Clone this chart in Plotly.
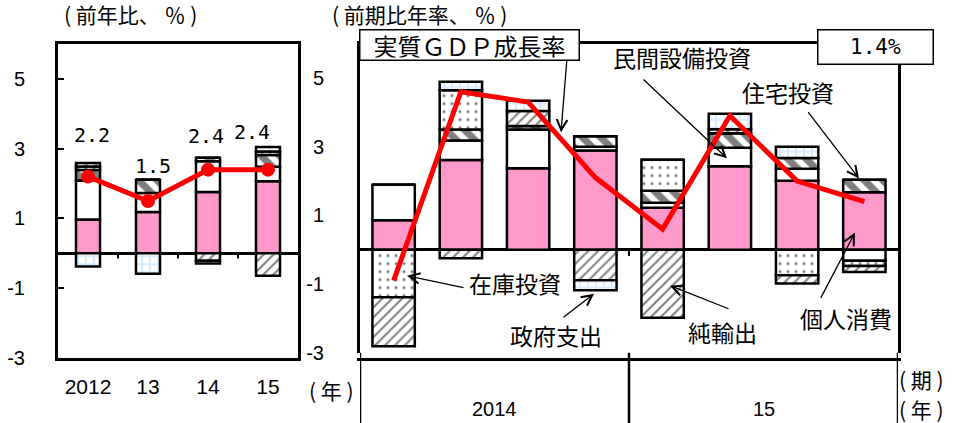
import plotly.graph_objects as go

W, H = 953, 423          # reference picture size (layout coordinates below are in these pixels)
FIG_H = 435              # rendered height (screenshot is squeezed to 423)
SY = FIG_H / H

# ---------------- data ----------------
years_a = ["2012", "13", "14", "15"]
gdp_a = [2.2, 1.5, 2.4, 2.4]
pc_a = [0.97, 1.18, 1.76, 2.07]
nonres_a = [1.12, 0.55, 0.88, 0.41]
res_a = [0.30, 0.38, 0.10, 0.34]
inv_a = [0.10, 0.00, 0.00, 0.10]
nx_a = [0.10, 0.00, -0.22, -0.65]
gov_a = [-0.38, -0.59, -0.08, 0.13]

quarters = ["2014Q1", "2014Q2", "2014Q3", "2014Q4", "2015Q1", "2015Q2", "2015Q3", "2015Q4"]
year_groups = ["2014", "15"]
gdp_q = [-0.9, 4.6, 4.3, 2.1, 0.6, 3.9, 2.0, 1.4]
pc_q = [0.86, 2.61, 2.37, 2.89, 1.22, 2.43, 2.01, 1.67]
nonres_q = [1.03, 0.57, 1.13, 0.11, 0.15, 0.54, 0.35, -0.32]
res_q = [0.00, 0.32, 0.10, 0.30, 0.35, 0.42, 0.31, 0.37]
inv_q = [-1.38, 1.14, 0.00, 0.00, 0.90, 0.00, -0.74, -0.15]
nx_q = [-1.43, -0.25, 0.44, -0.89, -1.98, 0.12, -0.24, -0.18]
gov_q = [0.00, 0.25, 0.30, -0.29, 0.00, 0.45, 0.33, 0.00]

y_ticks = [5, 3, 1, -1, -3]

names = ["個人消費", "民間設備投資", "住宅投資", "在庫投資", "純輸出", "政府支出"]
annual = [pc_a, nonres_a, res_a, inv_a, nx_a, gov_a]
quarterly = [pc_q, nonres_q, res_q, inv_q, nx_q, gov_q]

# ---------------- styles ----------------
PINK = "#FF99CC"
styles = [
    dict(color=PINK),
    dict(color="white"),
    dict(color="white", pattern=dict(shape="\\", fgcolor="black", bgcolor="white", size=13, solidity=0.55)),
    dict(color="white", pattern=dict(shape=".", fgcolor="black", bgcolor="white", size=8, solidity=0.12)),
    dict(color="white", pattern=dict(shape="/", fgcolor="black", bgcolor="white", size=7, solidity=0.28)),
    dict(color="white", pattern=dict(shape="+", fgcolor="#99CCFF", bgcolor="white", size=8, solidity=0.35)),
]
OUT = dict(color="black", width=2.5)
JP = "Noto Sans CJK JP"
NUM = "Liberation Sans, Arial"
MONO = "DejaVu Sans Mono"

def px(x):
    return x / W

def py(y):
    return 1 - y / H

fig = go.Figure()

for name, vals, st in zip(names, annual, styles):
    fig.add_trace(go.Bar(x=years_a, y=vals, name=name, width=[0.4] * len(years_a),
                         marker=dict(line=OUT, **st), xaxis="x", yaxis="y", showlegend=False))
for name, vals, st in zip(names, quarterly, styles):
    fig.add_trace(go.Bar(x=quarters, y=vals, name=name, width=[0.63] * len(quarters),
                         marker=dict(line=OUT, **st), xaxis="x2", yaxis="y2", showlegend=False))

fig.add_trace(go.Scatter(x=years_a, y=gdp_a, mode="lines+markers", xaxis="x", yaxis="y",
                         line=dict(color="#FF0000", width=5), marker=dict(size=14, color="#FF0000"),
                         showlegend=False))
fig.add_trace(go.Scatter(x=quarters, y=gdp_q, mode="lines", xaxis="x2", yaxis="y2",
                         line=dict(color="#FF0000", width=5), showlegend=False))

L_dom_x = [px(58), px(298)]
L_dom_y = [py(356.7), py(44.3)]
R_dom_x = [px(360), px(898)]
R_dom_y = [py(352), py(43.5)]

axis_common = dict(showline=True, linecolor="black", linewidth=3, mirror=True, showgrid=False)

fig.update_layout(
    width=W, height=FIG_H, margin=dict(l=0, r=0, t=0, b=0),
    paper_bgcolor="white", plot_bgcolor="white",
    barmode="relative", showlegend=False,
    xaxis=dict(domain=L_dom_x, type="category", range=[-0.5, len(years_a) - 0.5],
               tickfont=dict(family=NUM, size=21, color="black"), ticks="",
               ticklabelstandoff=8, zeroline=False, **axis_common),
    yaxis=dict(domain=L_dom_y, range=[-3, 6], tickvals=y_ticks, ticktext=[str(v) for v in y_ticks],
               ticks="inside", ticklen=6, tickwidth=2, tickcolor="black",
               tickfont=dict(family=NUM, size=20, color="black"), ticklabelstandoff=26,
               zeroline=True, zerolinecolor="black", zerolinewidth=2.5, **axis_common),
    xaxis2=dict(domain=R_dom_x, type="category", range=[-0.5, len(quarters) - 0.5],
                showticklabels=False, ticks="", zeroline=False, **axis_common),
    yaxis2=dict(domain=R_dom_y, range=[-3, 6], tickvals=y_ticks, ticktext=[str(v) for v in y_ticks],
                ticks="", tickfont=dict(family=NUM, size=20, color="black"), ticklabelstandoff=29,
                zeroline=True, zerolinecolor="black", zerolinewidth=2.5, anchor="x2", **axis_common),
)

shapes = []
for i in range(len(years_a) - 1):
    shapes.append(dict(type="line", xref="x", yref="y", x0=i + 0.5, x1=i + 0.5, y0=0, y1=-0.15,
                       line=dict(color="black", width=2)))
n_per_year = len(quarters) // len(year_groups)
for k in range(1, len(year_groups)):
    xb = k * n_per_year - 0.5
    shapes.append(dict(type="line", xref="x2", yref="y2", x0=xb, x1=xb, y0=0, y1=-0.18,
                       line=dict(color="black", width=2)))
    shapes.append(dict(type="line", xref="x2", yref="paper", x0=xb, x1=xb, y0=0, y1=R_dom_y[0],
                       line=dict(color="black", width=2.5)))
for xb in [-0.5, len(quarters) - 0.5]:
    shapes.append(dict(type="line", xref="x2", yref="paper", x0=xb, x1=xb, y0=0, y1=R_dom_y[0],
                       line=dict(color="black", width=2.5)))
fig.update_layout(shapes=shapes)

ann = []
lab_dx = [4, 5, -2, -16]
lab_dy = [40, 34, 33, 37]
for i, (v, dx, dy) in enumerate(zip(gdp_a, lab_dx, lab_dy)):
    ann.append(dict(x=i, y=v, xref="x", yref="y", text=f"{v}", showarrow=False,
                    xshift=dx, yshift=dy * SY, font=dict(family=MONO, size=20, color="black")))

def txt(t, x, y, size=23, **kw):
    d = dict(x=px(x), y=py(y), xref="paper", yref="paper", text=t, showarrow=False,
             xanchor="center", yanchor="middle", font=dict(family=JP, size=size, color="black"))
    d.update(kw)
    ann.append(d)

txt("( 前年比、 ％ )", 130, 14, size=21)
txt("( 前期比年率、 ％ )", 419, 14, size=21)
txt("( 年 )", 331, 389, size=21)
txt("( 期 )", 921, 378, size=21)
txt("( 年 )", 921, 408, size=21)

for k, yg in enumerate(year_groups):
    ann.append(dict(x=k * n_per_year + (n_per_year - 1) / 2, y=py(408), xref="x2", yref="paper",
                    text=yg, showarrow=False, yanchor="middle",
                    font=dict(family=NUM, size=20, color="black")))

txt("実質ＧＤＰ成長率", 469, 45, size=24, bgcolor="white", bordercolor="black", borderwidth=1.5,
    borderpad=2, width=214, height=25)
txt(f"{gdp_q[-1]}%", 875, 47, size=21, bgcolor="white", bordercolor="black", borderwidth=1.5,
    borderpad=2, width=110, height=29, font=dict(family=MONO, size=21, color="black"))

txt("民間設備投資", 682, 57)
txt("住宅投資", 788, 92)
txt("在庫投資", 515, 282)
txt("政府支出", 556, 334)
txt("純輸出", 722, 331)
txt("個人消費", 846, 317)

def arrow(tail, head):
    ann.append(dict(x=px(head[0]), y=py(head[1]), xref="paper", yref="paper", text="",
                    showarrow=True, ax=tail[0] - head[0], ay=(tail[1] - head[1]) * SY,
                    axref="pixel", ayref="pixel",
                    arrowhead=5, arrowsize=1.6, arrowwidth=1.3, arrowcolor="black"))

arrow((567, 60), (561, 132))
arrow((642, 80), (727, 158))
arrow((807, 112), (859, 178))
arrow((465, 287), (407, 275))
arrow((562, 317), (594, 293))
arrow((730, 308), (670, 285))
arrow((820, 297), (855, 232))

fig.update_layout(annotations=ann)
fig.write_html("out.html", config={"displayModeBar": False},
               post_script="document.body.style.margin='0';")
